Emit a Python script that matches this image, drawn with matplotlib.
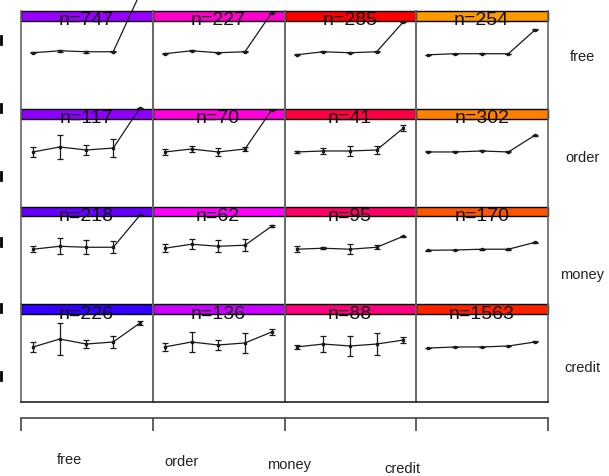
import matplotlib
matplotlib.use("Agg")
import matplotlib.pyplot as plt
from matplotlib.lines import Line2D
import numpy as np

plt.rcParams['font.family'] = ['Liberation Sans Narrow', 'Liberation Sans', 'DejaVu Sans']

categories = ["free", "order", "money", "credit"]
row_labels = ["free", "order", "money", "credit"]

counts = [
    [747, 227, 285, 254],
    [117, 70, 41, 302],
    [218, 62, 95, 170],
    [226, 136, 88, 1563],
]

header_colors = [
    ["#9900FF", "#FF00CC", "#FF0000", "#FF9900"],
    ["#9000FF", "#FF00DD", "#FF0040", "#FF8000"],
    ["#6600FF", "#FF00FF", "#FF0066", "#FF5500"],
    ["#3300FF", "#CC00FF", "#FF0080", "#FF2200"],
]

# profile values (5 points per panel) and error half-widths
means = [
    [[5.73, 5.93, 5.83, 5.83, 11.76], [5.63, 5.93, 5.73, 5.83, 9.82],
     [5.52, 5.83, 5.73, 5.83, 8.90], [5.52, 5.63, 5.63, 5.63, 8.08]],
    [[5.58, 6.09, 5.78, 5.98, 10.08], [5.58, 5.88, 5.58, 5.88, 9.87],
     [5.58, 5.68, 5.68, 5.78, 8.03], [5.58, 5.58, 5.68, 5.58, 7.31]],
    [[5.63, 5.93, 5.83, 5.83, 9.10], [5.73, 6.14, 5.93, 6.04, 7.98],
     [5.63, 5.73, 5.63, 5.83, 6.96], [5.52, 5.55, 5.63, 5.63, 6.34]],
    [[5.63, 6.44, 5.93, 6.14, 8.08], [5.63, 6.14, 5.83, 6.04, 7.16],
     [5.63, 5.93, 5.73, 5.93, 6.34], [5.52, 5.63, 5.63, 5.73, 6.14]],
]
errors = [
    [[0.05, 0.1, 0.1, 0.05, 0.0], [0.05, 0.05, 0.05, 0.05, 0.0],
     [0.05, 0.05, 0.05, 0.05, 0.0], [0.0, 0.0, 0.05, 0.0, 0.05]],
    [[0.51, 1.23, 0.51, 0.92, 0.0], [0.3, 0.3, 0.4, 0.2, 0.0],
     [0.1, 0.3, 0.5, 0.4, 0.3], [0.05, 0.05, 0.05, 0.05, 0.05]],
    [[0.3, 0.8, 0.7, 0.6, 0.0], [0.4, 0.5, 0.6, 0.6, 0.1],
     [0.3, 0.1, 0.5, 0.2, 0.05], [0.05, 0.05, 0.05, 0.05, 0.05]],
    [[0.5, 1.6, 0.4, 0.6, 0.2], [0.4, 1.0, 0.5, 1.0, 0.3],
     [0.2, 0.8, 1.0, 1.1, 0.3], [0.02, 0.02, 0.02, 0.02, 0.05]],
]
xpos = [1, 2, 3, 4, 5]

W, H = 609, 476
fig = plt.figure(figsize=(W / 100, H / 100), dpi=100)
fig.patch.set_facecolor("white")

left, right = 21, 548
top, bottom = 11, 402
cw = (right - left) / 4
rh = (bottom - top) / 4

for r in range(4):
    for c in range(4):
        x0 = left + c * cw
        ybot = top + (r + 1) * rh  # pixel (top-down) of panel bottom
        ax = fig.add_axes([x0 / W, 1 - ybot / H, cw / W, rh / H])
        ax.set_xlim(0.55, 5.48)
        ax.set_ylim(0, 10)
        ax.set_xticks([])
        ax.set_yticks([])
        ax.patch.set_alpha(0)
        for s in ["left", "right"]:
            ax.spines[s].set_color("#666666")
            ax.spines[s].set_linewidth(1.2)
        ax.spines["top"].set_visible(False)
        if r == 3:
            ax.spines["bottom"].set_color("#222222")
            ax.spines["bottom"].set_linewidth(1.2)
        else:
            ax.spines["bottom"].set_visible(False)
        ax.axhspan(8.98, 10.0, xmin=0, xmax=1, facecolor=header_colors[r][c],
                   edgecolor="black", linewidth=1.0, zorder=1)
        ax.text(3.0, 9.0, f"n={counts[r][c]}", ha="center", va="center",
                fontsize=14, color="#111111", zorder=2)
        ax.errorbar(xpos, means[r][c], yerr=errors[r][c], color="#1a1a1a",
                    ecolor="#1a1a1a", elinewidth=0.9, capsize=2.0, capthick=0.9,
                    linewidth=0.9, marker="s", markersize=2.0, clip_on=False,
                    zorder=3 + r)
        for artist in ax.get_children():
            try:
                artist.set_clip_on(False)
            except Exception:
                pass
        ax.set_zorder(10 - r)

# right row labels
right_y = [57, 158, 275, 368]
for lab, yy in zip(row_labels, right_y):
    fig.text(582 / W, 1 - yy / H, lab, ha="center", va="center", fontsize=10.5,
             color="#222222")

# bottom bracket axis
axb = fig.add_axes([left / W, 1 - 418 / H, (right - left) / W, 0.0001])
axb.set_xlim(0, 4)
axb.set_ylim(0, 1)
for s in ["left", "right", "bottom"]:
    axb.spines[s].set_visible(False)
axb.spines["top"].set_color("#444444")
axb.spines["top"].set_linewidth(1.2)
axb.xaxis.set_ticks_position("top")
axb.set_xticks([0, 1, 2, 3, 4])
axb.set_xticklabels([])
axb.tick_params(axis="x", direction="in", length=9.4, width=1.2, color="#444444")
axb.set_yticks([])

bottom_lab_x = [69, 181, 289, 402]
bottom_lab_y = [460, 462, 465, 469]
for lab, bx, by in zip(categories, bottom_lab_x, bottom_lab_y):
    fig.text(bx / W, 1 - by / H, lab, ha="center", va="center", fontsize=10.5,
             color="#222222")

# cut-off left tick fragments
for yy in [40, 108, 176, 242, 308, 376]:
    fig.add_artist(Line2D([1 / W, 1 / W], [1 - (yy - 4) / H, 1 - (yy + 4) / H],
                          color="black", linewidth=2, transform=fig.transFigure))

fig.savefig("out.png", dpi=100, facecolor="white")
